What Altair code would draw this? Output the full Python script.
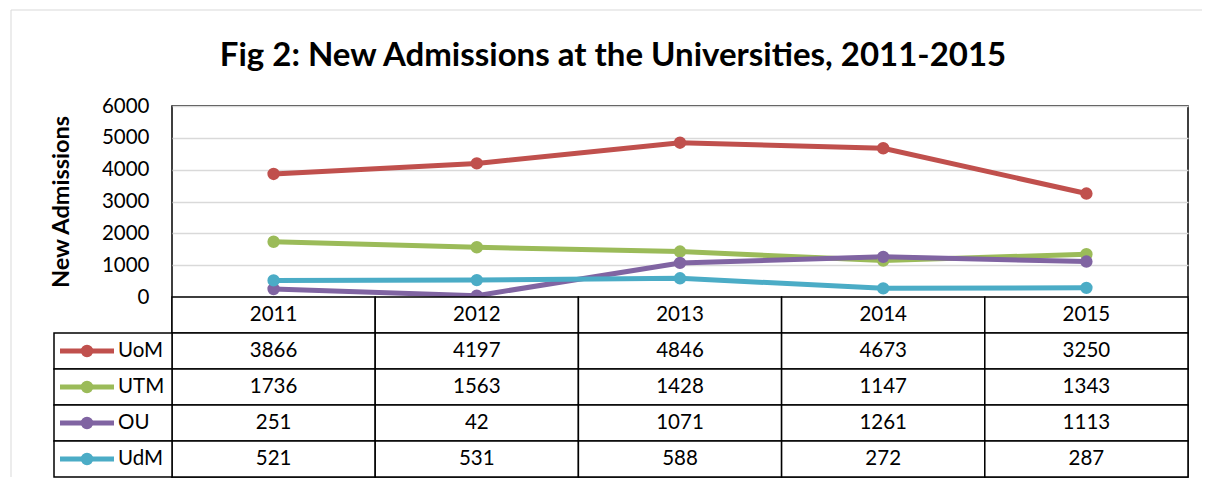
import altair as alt
import pandas as pd

# ---- data ----
years = ["2011", "2012", "2013", "2014", "2015"]
series = ["UoM", "UTM", "OU", "UdM"]
uom_values = [3866, 4197, 4846, 4673, 3250]
utm_values = [1736, 1563, 1428, 1147, 1343]
ou_values = [251, 42, 1071, 1261, 1113]
udm_values = [521, 531, 588, 272, 287]
colors = ["#C0504D", "#9BBB59", "#8064A2", "#4BACC6"]
y_ticks = [0, 1000, 2000, 3000, 4000, 5000, 6000]
title_text = "Fig 2: New Admissions at the Universities, 2011-2015"
y_title = "New Admissions"
header_key = "Year"

value_lists = [uom_values, utm_values, ou_values, udm_values]
records = []
for s, vals in zip(series, value_lists):
    for yr, v in zip(years, vals):
        records.append({"series": s, "year": yr, "value": v, "row": s, "label": str(v)})
df = pd.DataFrame(records)
hdr = pd.DataFrame({"year": years, "row": [header_key] * len(years), "label": years})
cells = pd.concat([hdr, df[["year", "row", "label"]]], ignore_index=True)
legend_df = pd.DataFrame({"series": series, "row": series})
frame_df = pd.DataFrame({"k": [0]})
row_domain = [header_key] + series

# ---- layout / style ----
W = 1016
H_LINE = 191
ROW = 36
H = H_LINE + ROW * len(row_domain)
FONT = "Lato"

xscale = alt.Scale(type="band", paddingInner=0, paddingOuter=0)
x_band = alt.X("year:N", scale=xscale, axis=None, sort=years)
x_mid = alt.X("year:N", scale=xscale, axis=None, sort=years, bandPosition=0.5)
color = alt.Color("series:N", scale=alt.Scale(domain=series, range=colors), legend=None)

y_val = alt.Y(
    "value:Q",
    scale=alt.Scale(domain=[0, 6000], range=[H_LINE, 0], nice=False),
    axis=alt.Axis(
        values=y_ticks, format="d", grid=True, gridColor="#d9d9d9", gridWidth=1.5,
        domain=False, ticks=False, labelFont=FONT, labelFontSize=20.5,
        labelColor="black", labelPadding=23, title=y_title, titleFont=FONT,
        titleFontSize=23.5, titleFontWeight="bold", titleColor="black",
        titlePadding=28,
    ),
)

lines = alt.Chart(df).mark_line(strokeWidth=5).encode(
    x=x_mid, y=y_val, color=color, detail="series:N"
)
points = alt.Chart(df).mark_circle(size=154, opacity=1).encode(
    x=x_mid, y=y_val, color=color
)
line_group = alt.layer(lines, points)

yscale = alt.Scale(domain=row_domain, range=[H_LINE, H], paddingInner=0, paddingOuter=0)
y_band = alt.Y("row:N", scale=yscale, axis=None, sort=row_domain)
y_mid = alt.Y("row:N", scale=yscale, axis=None, sort=row_domain, bandPosition=0.5)

cell_rect = alt.Chart(cells).mark_rect(fill="white", stroke="black", strokeWidth=1.5).encode(
    x=x_band, y=y_band
)
cell_text = alt.Chart(cells).mark_text(font=FONT, fontSize=20.5, color="black", baseline="middle").encode(
    x=x_mid, y=y_mid, text="label:N"
)
leg_rect = alt.Chart(legend_df).mark_rect(fill="white", stroke="black", strokeWidth=1.5).encode(
    x=alt.value(-118), x2=alt.value(0), y=y_band
)
leg_rule = alt.Chart(legend_df).mark_rule(strokeWidth=5).encode(
    x=alt.value(-112), x2=alt.value(-58), y=y_mid, color=color
)
leg_dot = alt.Chart(legend_df).mark_circle(size=154, opacity=1).encode(
    x=alt.value(-85), y=y_mid, color=color
)
leg_text = alt.Chart(legend_df).mark_text(font=FONT, fontSize=20.5, color="black", align="left", baseline="middle").encode(
    x=alt.value(-54), y=y_mid, text="series:N"
)
frame_left = alt.Chart(frame_df).mark_rule(color="#d9d9d9", strokeWidth=1).encode(
    x=alt.value(-161), y=alt.value(-96), y2=alt.value(H)
)
frame_top = alt.Chart(frame_df).mark_rule(color="#d9d9d9", strokeWidth=1).encode(
    x=alt.value(-161), x2=alt.value(1030), y=alt.value(-96)
)
table_group = alt.layer(cell_rect, cell_text, leg_rect, leg_rule, leg_dot, leg_text, frame_left, frame_top)

chart = alt.layer(line_group, table_group).resolve_scale(y="independent").properties(
    width=W,
    height=H,
    padding={"left": 2, "top": 1, "right": 0, "bottom": 0},
    title=alt.TitleParams(
        title_text, font=FONT, fontSize=33, fontWeight="bold", color="black",
        anchor="middle", frame="group", dx=-67, offset=-63,
    ),
).configure_view(stroke="black", strokeWidth=1.5)

chart.save("out.html", embed_options={"renderer": "svg", "actions": False})
